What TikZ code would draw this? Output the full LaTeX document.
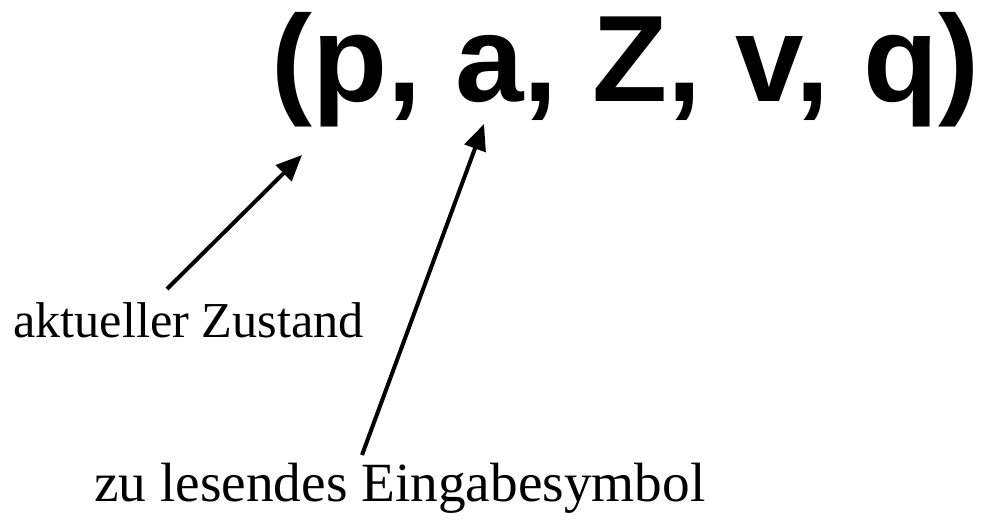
\documentclass[tikz,border=0pt]{standalone}
\usepackage{fontspec}
\setmainfont{Liberation Serif}
\newfontfamily\titlefont{Liberation Sans}
\usetikzlibrary{arrows.meta}
\begin{document}
\begin{tikzpicture}[x=1pt,y=-1pt,
  lbl/.style={inner sep=0pt,anchor=base west},
  ttl/.style={inner sep=0pt,anchor=base west,font=\titlefont\bfseries\fontsize{123}{140}\selectfont},
  pointer/.style={line width=4pt,-{Triangle[length=26pt,width=22pt]}}]
\useasboundingbox (0,0) rectangle (983,526);
\node[ttl] (title) at (271,102) {(p, a, Z, v, q)};
\node[lbl,font=\fontsize{50.3}{60}\selectfont] (zustand) at (13,338) {aktueller Zustand};
\node[lbl,font=\fontsize{55.3}{64}\selectfont] (eingabe) at (94,501) {zu lesendes Eingabesymbol};
\coordinate (t1) at (167,289);
\coordinate (h1) at (302,155);
\coordinate (t2) at (362,455);
\coordinate (h2) at (484,124);
\draw[pointer] (t1) -- (h1);
\draw[pointer] (t2) -- (h2);
\end{tikzpicture}
\end{document}
